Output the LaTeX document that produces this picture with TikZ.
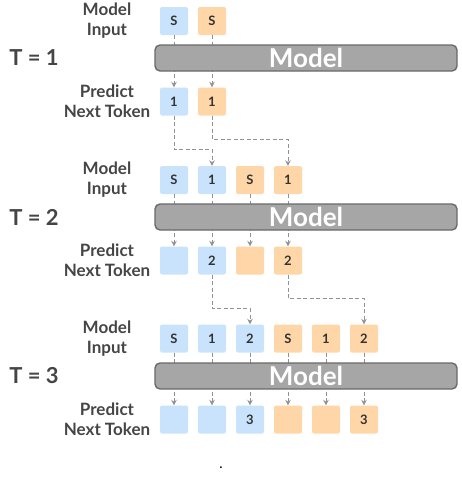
\documentclass[tikz,border=0pt]{standalone}
\usepackage{fontspec}
\setmainfont{Lato}
\usepackage{xcolor}
\usepackage{tikz}
\usetikzlibrary{arrows}
\usetikzlibrary{arrows.meta}
\usetikzlibrary{calc}

\definecolor{tokblue}{HTML}{C9E3FD}
\definecolor{tokorange}{HTML}{FFD6A8}
\definecolor{barfill}{HTML}{A6A6A6}
\definecolor{bardraw}{HTML}{6A6A6A}
\definecolor{linkgray}{HTML}{929292}
\definecolor{labelgray}{HTML}{454545}

\tikzset{
	tok/.style = {rectangle, rounded corners = 2pt, minimum width = 28pt, minimum height = 28pt,
		inner sep = 0pt, text = black!80, font = \fontsize{13}{15}\selectfont\bfseries},
	tokb/.style = {tok, fill = tokblue},
	toko/.style = {tok, fill = tokorange},
	modelbar/.style = {rectangle, rounded corners = 5pt, fill = barfill, draw = bardraw, line width = 1.4pt,
		minimum width = 302pt, minimum height = 26pt, inner sep = 0pt, text = white,
		font = \fontsize{26}{28}\selectfont\bfseries},
	rowlabel/.style = {align = center, text = labelgray, font = \fontsize{17}{20}\selectfont\bfseries},
	steplabel/.style = {text = labelgray, font = \fontsize{22}{26}\selectfont\bfseries},
	link/.style = {draw = linkgray, line width = 0.9pt, dash pattern = on 4pt off 2.5pt,
		-{Stealth[length = 5.5pt, width = 5.5pt]}}
}

\begin{document}
\begin{tikzpicture}[x = 1pt, y = -1pt]
		\useasboundingbox (0, 0) rectangle (461, 485);
		
		% T = 1
		\node (lab1in) [rowlabel] at (107, 21) {Model\\Input};
		\node (lab1out) [rowlabel] at (107, 101.5) {Predict\\Next Token};
		\node (t1) [steplabel] at (34, 58) {T = 1};
		\node (in1a) [tokb] at (174, 21) {S};
		\node (in1b) [toko] at (212, 21) {S};
		\node (out1a) [tokb] at (174, 101.5) {1};
		\node (out1b) [toko] at (212, 101.5) {1};
		\draw [link] (in1a) -- (out1a);
		\draw [link] (in1b) -- (out1b);
		\node (bar1) [modelbar] at (306, 58) {Model};
		
		% T = 2
		\node (lab2in) [rowlabel] at (107, 180) {Model\\Input};
		\node (lab2out) [rowlabel] at (107, 260.5) {Predict\\Next Token};
		\node (t2) [steplabel] at (34, 217) {T = 2};
		\node (in2a) [tokb] at (174, 180) {S};
		\node (in2b) [tokb] at (212, 180) {1};
		\node (in2c) [toko] at (250, 180) {S};
		\node (in2d) [toko] at (288, 180) {1};
		\node (out2a) [tokb] at (174, 260.5) {};
		\node (out2b) [tokb] at (212, 260.5) {2};
		\node (out2c) [toko] at (250, 260.5) {};
		\node (out2d) [toko] at (288, 260.5) {2};
		\draw [link] (in2a) -- (out2a);
		\draw [link] (in2b) -- (out2b);
		\draw [link] (in2c) -- (out2c);
		\draw [link] (in2d) -- (out2d);
		\node (bar2) [modelbar] at (306, 217) {Model};
		
		% T = 3
		\node (lab3in) [rowlabel] at (107, 338.5) {Model\\Input};
		\node (lab3out) [rowlabel] at (107, 419.5) {Predict\\Next Token};
		\node (t3) [steplabel] at (34, 376) {T = 3};
		\node (in3a) [tokb] at (174, 338.5) {S};
		\node (in3b) [tokb] at (212, 338.5) {1};
		\node (in3c) [tokb] at (250, 338.5) {2};
		\node (in3d) [toko] at (288, 338.5) {S};
		\node (in3e) [toko] at (326, 338.5) {1};
		\node (in3f) [toko] at (364, 338.5) {2};
		\node (out3a) [tokb] at (174, 419.5) {};
		\node (out3b) [tokb] at (212, 419.5) {};
		\node (out3c) [tokb] at (250, 419.5) {3};
		\node (out3d) [toko] at (288, 419.5) {};
		\node (out3e) [toko] at (326, 419.5) {};
		\node (out3f) [toko] at (364, 419.5) {3};
		\draw [link] (in3a) -- (out3a);
		\draw [link] (in3b) -- (out3b);
		\draw [link] (in3c) -- (out3c);
		\draw [link] (in3d) -- (out3d);
		\draw [link] (in3e) -- (out3e);
		\draw [link] (in3f) -- (out3f);
		\node (bar3) [modelbar] at (306, 376) {Model};
		
		% feed predictions back
		\draw [link] (out1a.south) -- ++(0, 34) -| (in2b.north);
		\draw [link] (out1b.south) -- ++(0, 24) -| (in2d.north);
		\draw [link] (out2b.south) -- ++(0, 34) -| (in3c.north);
		\draw [link] (out2d.south) -- ++(0, 24) -| (in3f.north);
		
		\node (dot) [font = \bfseries\large] at (221, 468) {.};
		
\end{tikzpicture}
\end{document}
